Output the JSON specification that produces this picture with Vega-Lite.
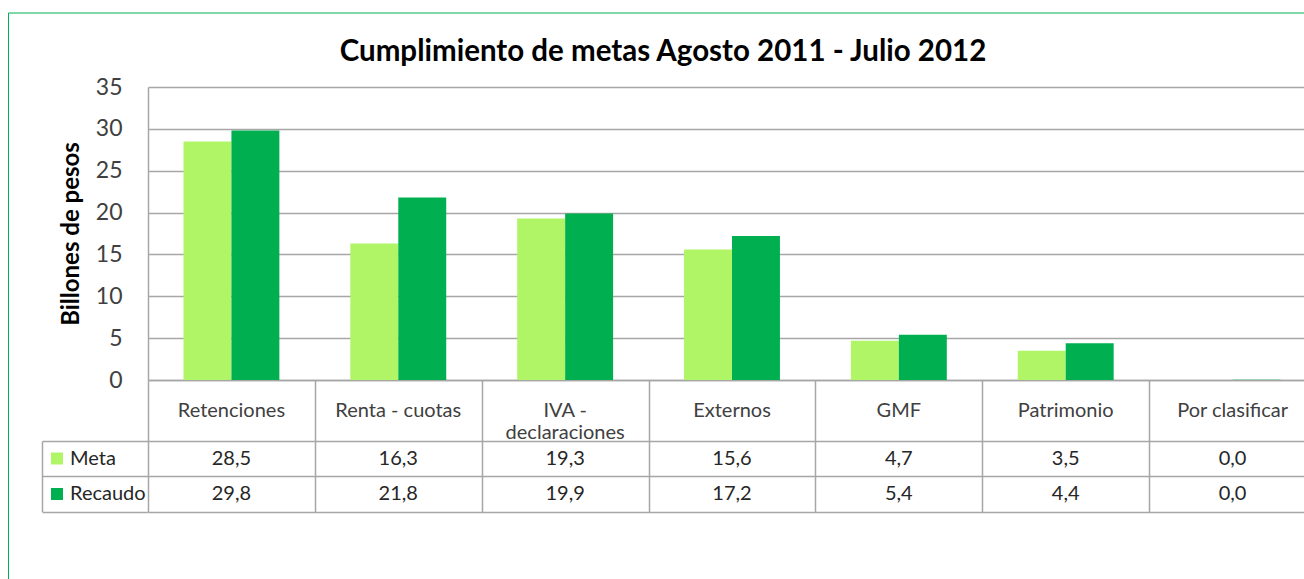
{
  "$schema": "https://vega.github.io/schema/vega-lite/v6.json",
  "background": "white",
  "padding": {"left": 7, "top": 12, "right": 0, "bottom": 0},
  "config": {
    "locale": {"number": {"decimal": ",", "thousands": ".", "grouping": [3], "currency": ["$", ""]}},
    "font": "Lato",
    "view": {"stroke": null}
  },
  "datasets": {
    "d": [
      {"categoria": "Retenciones", "serie": "Meta", "valor": 28.5},
      {"categoria": "Retenciones", "serie": "Recaudo", "valor": 29.8},
      {"categoria": "Renta - cuotas", "serie": "Meta", "valor": 16.3},
      {"categoria": "Renta - cuotas", "serie": "Recaudo", "valor": 21.8},
      {"categoria": "IVA -\ndeclaraciones", "serie": "Meta", "valor": 19.3},
      {"categoria": "IVA -\ndeclaraciones", "serie": "Recaudo", "valor": 19.9},
      {"categoria": "Externos", "serie": "Meta", "valor": 15.6},
      {"categoria": "Externos", "serie": "Recaudo", "valor": 17.2},
      {"categoria": "GMF", "serie": "Meta", "valor": 4.7},
      {"categoria": "GMF", "serie": "Recaudo", "valor": 5.4},
      {"categoria": "Patrimonio", "serie": "Meta", "valor": 3.5},
      {"categoria": "Patrimonio", "serie": "Recaudo", "valor": 4.4},
      {"categoria": "Por clasificar", "serie": "Meta", "valor": 0.0},
      {"categoria": "Por clasificar", "serie": "Recaudo", "valor": 0.04}
    ]
  },
  "spacing": 0,
  "bounds": "flush",
  "resolve": {"scale": {"color": "independent"}, "legend": {"color": "independent"}},
  "vconcat": [
    {
      "width": 1168,
      "height": 293,
      "title": {
        "text": "Cumplimiento de metas Agosto 2011 - Julio 2012",
        "font": "Lato", "fontSize": 29.5, "fontWeight": "bold", "color": "#000000",
        "anchor": "middle", "dx": -69, "baseline": "alphabetic", "offset": -14
      },
      "data": {"name": "d"},
      "mark": {"type": "bar"},
      "encoding": {
        "x": {
          "field": "categoria", "type": "nominal",
          "sort": ["Retenciones", "Renta - cuotas", "IVA -\ndeclaraciones", "Externos", "GMF", "Patrimonio", "Por clasificar"],
          "scale": {"paddingInner": 0, "paddingOuter": 0},
          "axis": {"title": null, "labels": false, "ticks": false, "domain": true, "domainColor": "#A6A6A6", "domainWidth": 1.5, "grid": false}
        },
        "xOffset": {
          "field": "serie", "type": "nominal", "sort": ["Meta", "Recaudo"],
          "scale": {"paddingInner": 0, "paddingOuter": 0.74}
        },
        "y": {
          "field": "valor", "type": "quantitative",
          "scale": {"domain": [0, 35], "nice": false},
          "axis": {
            "title": "Billones de pesos", "values": [0, 5, 10, 15, 20, 25, 30, 35],
            "ticks": false, "domain": true, "domainColor": "#A6A6A6", "domainWidth": 1.5,
            "grid": true, "gridColor": "#A6A6A6", "gridWidth": 1.5,
            "labelFont": "Lato", "labelFontSize": 23, "labelColor": "#404040", "labelPadding": 26,
            "titleFont": "Lato", "titleFontSize": 24, "titleFontWeight": "bold", "titleColor": "#000000", "titlePadding": 12
          }
        },
        "color": {
          "field": "serie", "type": "nominal",
          "scale": {"domain": ["Meta", "Recaudo"], "range": ["#B0F566", "#00B050"]},
          "legend": null
        }
      }
    },
    {
      "width": 1168,
      "height": 61,
      "data": {"name": "d"},
      "transform": [{"filter": "datum.serie == 'Meta'"}],
      "mark": {"type": "text", "font": "Lato", "fontSize": 20, "color": "#404040", "lineBreak": "\n", "lineHeight": 22, "baseline": "middle", "align": "center"},
      "encoding": {
        "x": {
          "field": "categoria", "type": "nominal",
          "sort": ["Retenciones", "Renta - cuotas", "IVA -\ndeclaraciones", "Externos", "GMF", "Patrimonio", "Por clasificar"],
          "scale": {"paddingInner": 0, "paddingOuter": 0},
          "axis": {"orient": "top", "title": null, "labels": false, "ticks": false, "domain": false, "grid": true, "tickBand": "extent", "gridColor": "#A6A6A6", "gridWidth": 1.5}
        },
        "text": {"field": "categoria"}
      }
    },
    {
      "width": 1168,
      "height": 70.5,
      "data": {"name": "d"},
      "resolve": {"axis": {"y": "independent"}},
      "layer": [
        {
          "mark": {"type": "rect", "opacity": 0},
          "encoding": {
            "x": {
              "field": "categoria", "type": "nominal",
              "sort": ["Retenciones", "Renta - cuotas", "IVA -\ndeclaraciones", "Externos", "GMF", "Patrimonio", "Por clasificar"],
              "scale": {"paddingInner": 0, "paddingOuter": 0},
              "axis": {"orient": "top", "title": null, "labels": false, "ticks": false, "domain": false, "grid": true, "tickBand": "extent", "gridColor": "#A6A6A6", "gridWidth": 1.5}
            },
            "y": {
              "field": "serie", "type": "nominal", "sort": ["Meta", "Recaudo"],
              "scale": {"paddingInner": 0, "paddingOuter": 0},
              "axis": {"orient": "left", "title": null, "labels": false, "ticks": true, "tickSize": 106, "tickBand": "extent", "tickColor": "#A6A6A6", "tickWidth": 1.5, "domain": false, "grid": true, "gridColor": "#A6A6A6", "gridWidth": 1.5}
            },
            "color": {
              "field": "serie", "type": "nominal",
              "scale": {"domain": ["Meta", "Recaudo"], "range": ["#B0F566", "#00B050"]},
              "legend": {
                "orient": "none", "legendX": -101, "legendY": 7.5, "title": null,
                "symbolType": "square", "symbolSize": 144, "symbolOpacity": 1, "symbolStrokeWidth": 0,
                "labelFont": "Lato", "labelFontSize": 20, "labelColor": "#262626", "labelOffset": 3,
                "rowPadding": 15.5, "padding": 0
              }
            }
          }
        },
        {
          "mark": {"type": "point", "opacity": 0, "filled": true},
          "encoding": {
            "x": {
              "field": "categoria", "type": "nominal",
              "sort": ["Retenciones", "Renta - cuotas", "IVA -\ndeclaraciones", "Externos", "GMF", "Patrimonio", "Por clasificar"]
            },
            "y": {"field": "serie", "type": "nominal", "sort": ["Meta", "Recaudo"], "axis": null},
            "shape": {
              "field": "categoria", "type": "nominal",
              "legend": {
                "values": ["Retenciones", "Renta - cuotas"],
                "orient": "none", "legendX": -140, "legendY": -74.5, "title": null,
                "direction": "horizontal", "columns": 2, "columnPadding": 150,
                "strokeColor": "#00B050", "padding": 0,
                "symbolType": "square", "symbolSize": 360000, "symbolOpacity": 0,
                "symbolFillColor": "transparent", "symbolStrokeColor": "transparent",
                "labelOpacity": 0, "labelExpr": "''"
              }
            }
          }
        },
        {
          "mark": {"type": "text", "font": "Lato", "fontSize": 20, "color": "#262626", "baseline": "middle", "align": "center"},
          "encoding": {
            "x": {
              "field": "categoria", "type": "nominal",
              "sort": ["Retenciones", "Renta - cuotas", "IVA -\ndeclaraciones", "Externos", "GMF", "Patrimonio", "Por clasificar"]
            },
            "y": {"field": "serie", "type": "nominal", "sort": ["Meta", "Recaudo"], "axis": null},
            "text": {"field": "valor", "type": "quantitative", "format": ".1f"}
          }
        },
        {
          "mark": {"type": "text", "opacity": 0},
          "encoding": {
            "y": {
              "field": "serie", "type": "nominal", "sort": ["Meta", "Recaudo"],
              "axis": {"orient": "left", "title": null, "labels": false, "ticks": false, "grid": false, "domain": true, "domainColor": "#A6A6A6", "domainWidth": 1.5, "offset": 106}
            },
            "text": {"field": "serie"}
          }
        }
      ]
    }
  ]
}
